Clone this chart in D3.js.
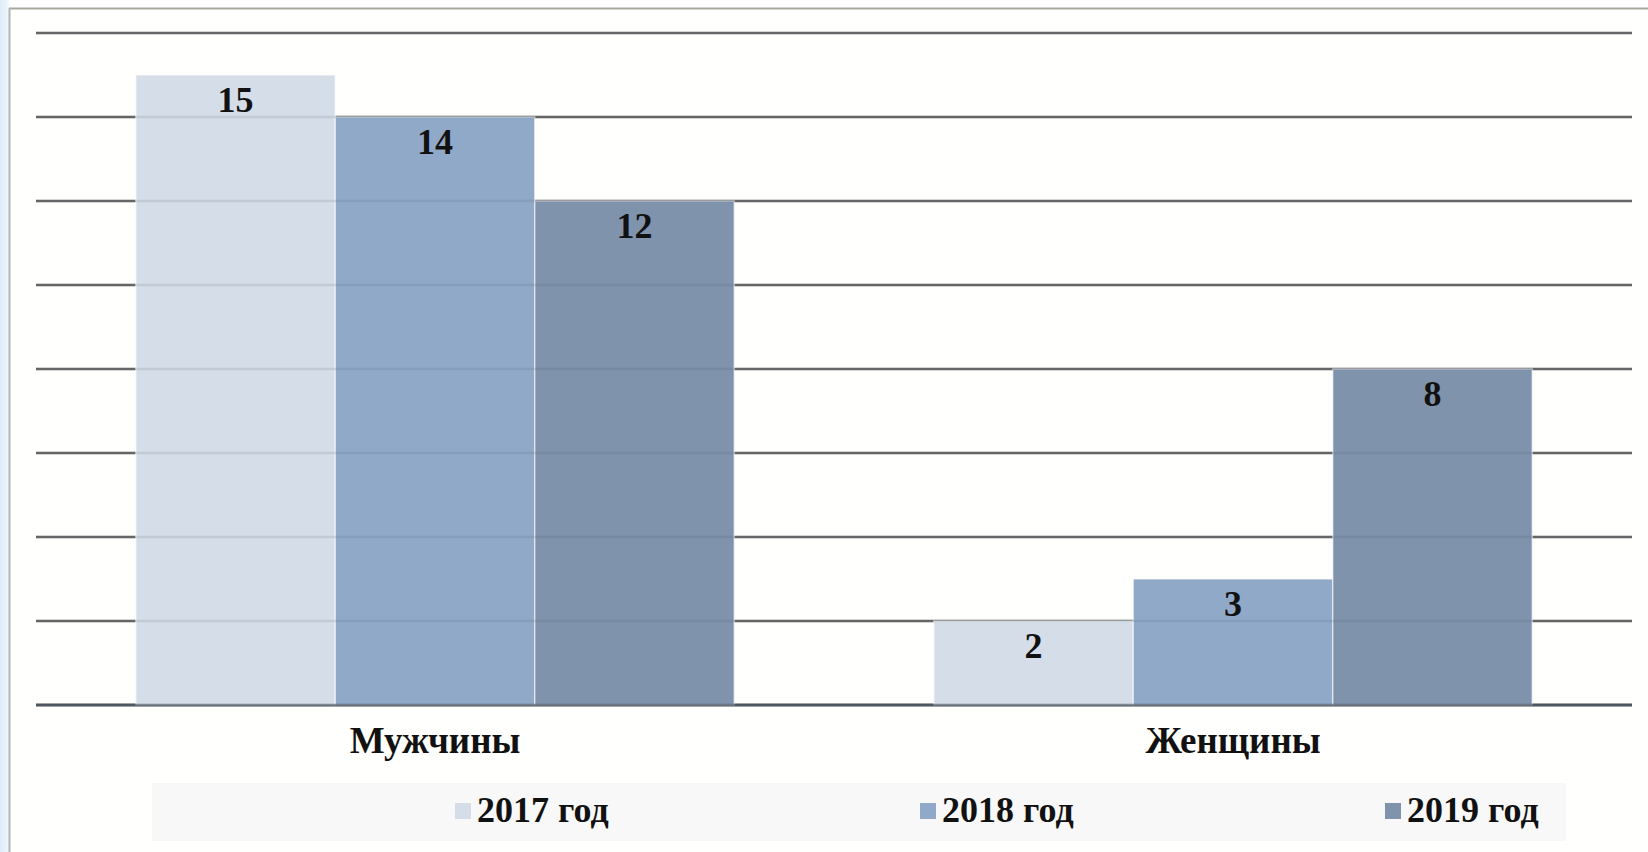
<!DOCTYPE html>
<html>
<head>
<meta charset="utf-8">
<script src="https://cdn.jsdelivr.net/npm/d3@7"></script>
<style>
  html, body { margin: 0; padding: 0; background: #ffffff; }
  svg { display: block; }
  text { font-family: "Liberation Serif", "Times New Roman", serif; font-weight: bold; fill: #111; }
</style>
</head>
<body>
<div id="chart"></div>
<script>
// data
const categories = ['Мужчины', 'Женщины'];
const seriesNames = ['2017 год', '2018 год', '2019 год'];
const values2017 = [15, 2];
const values2018 = [14, 3];
const values2019 = [12, 8];
const yTicks = [0, 2, 4, 6, 8, 10, 12, 14, 16];

const seriesValues = [values2017, values2018, values2019];
const colors = ['#d5dee8', '#91a9c9', '#7f93ad'];

const W = 1648, H = 852;
const plot = { left: 36, right: 1632, top: 33, bottom: 705 };

const svg = d3.select('#chart').append('svg')
    .attr('width', W)
    .attr('height', H);

// page background + frame
svg.append('rect').attr('width', W).attr('height', H).attr('fill', '#ffffff');
const grad = svg.append('defs').append('linearGradient').attr('id', 'side')
    .attr('x1', 0).attr('x2', 1).attr('y1', 0).attr('y2', 0);
grad.append('stop').attr('offset', 0).attr('stop-color', '#dcecf8');
grad.append('stop').attr('offset', 1).attr('stop-color', '#eef7fd');
svg.append('rect').attr('x', 0).attr('y', 0).attr('width', 9).attr('height', H).attr('fill', 'url(#side)');
svg.append('rect').attr('x', 9).attr('y', 8).attr('width', W - 9).attr('height', H - 8)
    .attr('fill', '#fffffd');
svg.append('line').attr('x1', 9).attr('x2', W).attr('y1', 8.5).attr('y2', 8.5)
    .attr('stroke', '#a9aaa0').attr('stroke-width', 2);
svg.append('line').attr('x1', 9.5).attr('x2', 9.5).attr('y1', 8).attr('y2', H)
    .attr('stroke', '#b4b6ae').attr('stroke-width', 2);

// scales
const x0 = d3.scaleBand()
    .domain(categories)
    .range([plot.left, plot.right])
    .paddingInner(0.25)
    .paddingOuter(0.125);

const x1 = d3.scaleBand()
    .domain(seriesNames)
    .range([0, x0.bandwidth()]);

const y = d3.scaleLinear()
    .domain([0, 16])
    .range([plot.bottom, plot.top]);

// gridlines (behind bars)
const grid = svg.append('g');
grid.selectAll('line')
    .data(yTicks)
    .enter()
    .append('line')
    .attr('x1', plot.left)
    .attr('x2', plot.right)
    .attr('y1', d => y(d))
    .attr('y2', d => y(d))
    .attr('stroke', '#6a6a6a')
    .attr('stroke-width', d => d === 0 ? 3 : 2.5);

// bars
const rows = [];
categories.forEach((c, ci) => {
    seriesNames.forEach((s, si) => {
        rows.push({ cat: c, series: s, si: si, value: seriesValues[si][ci] });
    });
});

svg.append('g').selectAll('rect')
    .data(rows)
    .enter()
    .append('rect')
    .attr('x', d => x0(d.cat) + x1(d.series))
    .attr('y', d => y(d.value))
    .attr('width', x1.bandwidth())
    .attr('height', d => y(0) - y(d.value))
    .attr('fill', d => colors[d.si])
    .attr('stroke', '#ffffff')
    .attr('stroke-opacity', 0.55)
    .attr('stroke-width', 1.5);

// faint gridlines showing through the bars
svg.append('g').selectAll('line')
    .data(yTicks)
    .enter()
    .append('line')
    .attr('x1', plot.left)
    .attr('x2', plot.right)
    .attr('y1', d => y(d))
    .attr('y2', d => y(d))
    .attr('stroke', '#3c4a5c')
    .attr('stroke-opacity', d => d === 0 ? 0.6 : 0.13)
    .attr('stroke-width', 2.5);

// value labels
svg.append('g').selectAll('text')
    .data(rows)
    .enter()
    .append('text')
    .attr('x', d => x0(d.cat) + x1(d.series) + x1.bandwidth() / 2)
    .attr('y', d => y(d.value) + 37)
    .attr('text-anchor', 'middle')
    .attr('font-size', 36)
    .text(d => d.value);

// category labels
svg.append('g').selectAll('text')
    .data(categories)
    .enter()
    .append('text')
    .attr('x', d => x0(d) + x0.bandwidth() / 2)
    .attr('y', 753)
    .attr('text-anchor', 'middle')
    .attr('font-size', 37)
    .text(d => d);

// legend
svg.append('rect')
    .attr('x', 152).attr('y', 783)
    .attr('width', 1414).attr('height', 58)
    .attr('fill', '#f8f8f8');

const legendX = [455, 920, 1385];
const legend = svg.append('g').selectAll('g')
    .data(seriesNames)
    .enter()
    .append('g')
    .attr('transform', (d, i) => `translate(${legendX[i]}, 0)`);

legend.append('rect')
    .attr('x', 0).attr('y', 803)
    .attr('width', 16).attr('height', 16)
    .attr('fill', (d, i) => colors[i]);

legend.append('text')
    .attr('x', 22)
    .attr('y', 822)
    .attr('font-size', 36)
    .text(d => d);
</script>
</body>
</html>
